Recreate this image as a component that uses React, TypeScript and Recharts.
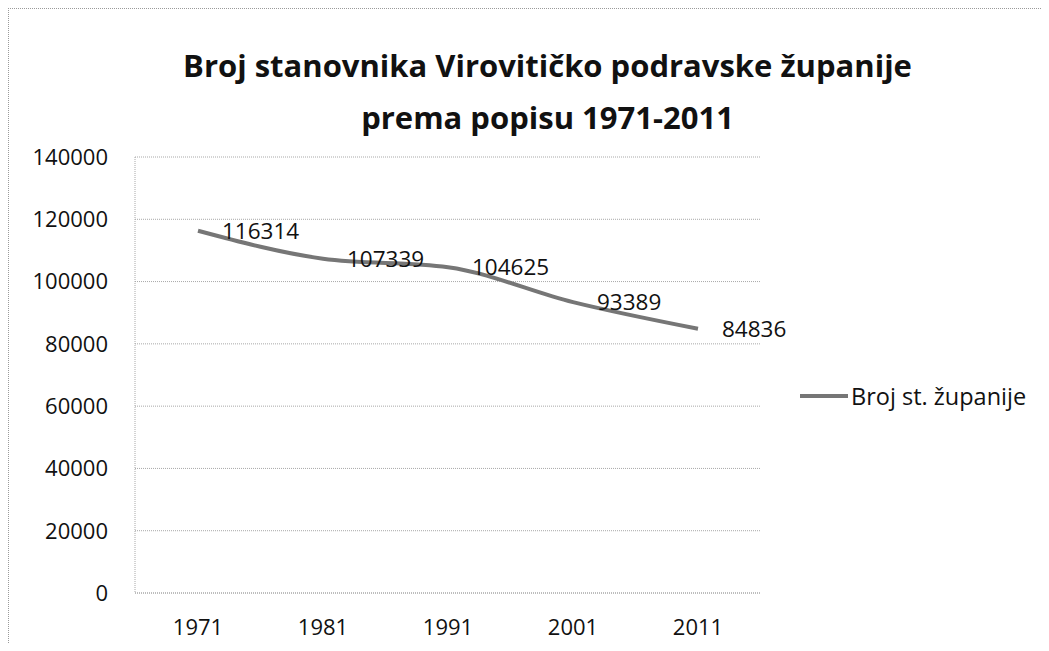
import React from "react";
import { LineChart, Line, XAxis, YAxis, CartesianGrid, LabelList, Legend } from "recharts";

const years = ["1971", "1981", "1991", "2001", "2011"];
const population = [116314, 107339, 104625, 93389, 84836];
const yTicks = [0, 20000, 40000, 60000, 80000, 100000, 120000, 140000];
const seriesName = "Broj st. županije";
const titleLines = ["Broj stanovnika Virovitičko podravske županije", "prema popisu 1971-2011"];

const data = years.map((y, i) => ({ year: y, value: population[i] }));

const FONT = "'Open Sans', sans-serif";
const LINE_COLOR = "#767676";

const renderLegend = () => (
  <div style={{ height: 0, width: 0, position: "relative", overflow: "visible" }}>
    <div
      style={{
        position: "absolute",
        left: 0,
        top: 0,
        display: "flex",
        alignItems: "center",
        fontFamily: FONT,
        fontSize: 23.5,
        color: "#111",
        whiteSpace: "nowrap",
      }}
    >
      <svg width={50} height={10} style={{ marginRight: 2 }}>
        <line x1={1} y1={5} x2={49} y2={5} stroke={LINE_COLOR} strokeWidth={4} />
      </svg>
      <span>{seriesName}</span>
    </div>
  </div>
);

export default function App() {
  return (
    <div
      style={{
        position: "relative",
        width: 1041,
        height: 635,
        borderTop: "1px dotted #9a9a9a",
        borderLeft: "1px dotted #9a9a9a",
        boxSizing: "border-box",
        background: "#fff",
      }}
    >
      <div
        style={{
          position: "absolute",
          left: 0,
          top: 30,
          width: 1077,
          textAlign: "center",
          fontFamily: FONT,
          fontWeight: 700,
          fontSize: 31,
          lineHeight: "52px",
          color: "#111",
        }}
      >
        {titleLines.map((t) => (
          <div key={t}>{t}</div>
        ))}
      </div>
      <LineChart
        width={1041}
        height={635}
        data={data}
        margin={{ top: 149, right: 288, bottom: 0, left: 27 }}
        style={{ position: "absolute", left: -1, top: -1 }}
      >
        <CartesianGrid horizontal vertical={false} stroke="#a8a8a8" strokeDasharray="1 1" />
        <XAxis
          dataKey="year"
          height={50}
          padding={{ left: 63, right: 63 }}
          tickLine={false}
          tickSize={0}
          tickMargin={26}
          axisLine={{ stroke: "#a8a8a8", strokeDasharray: "1 1" }}
          tick={{ fill: "#111", fontSize: 22, fontFamily: FONT }}
        />
        <YAxis
          width={100}
          domain={[0, 140000]}
          ticks={yTicks}
          interval={0}
          tickLine={false}
          tickSize={0}
          tickMargin={27}
          axisLine={{ stroke: "#a8a8a8", strokeDasharray: "1 1" }}
          tick={{ fill: "#111", fontSize: 22, fontFamily: FONT }}
        />
        <Legend
          content={renderLegend}
          wrapperStyle={{ position: "absolute", left: 791, top: 372, width: 0, height: 0 }}
        />
        <Line
          type="monotone"
          dataKey="value"
          name={seriesName}
          stroke={LINE_COLOR}
          strokeWidth={4}
          dot={false}
          activeDot={false}
          isAnimationActive={false}
        >
          <LabelList dataKey="value" position="right" offset={24} fill="#111" fontSize={22.5} fontFamily={FONT} />
        </Line>
      </LineChart>
    </div>
  );
}
